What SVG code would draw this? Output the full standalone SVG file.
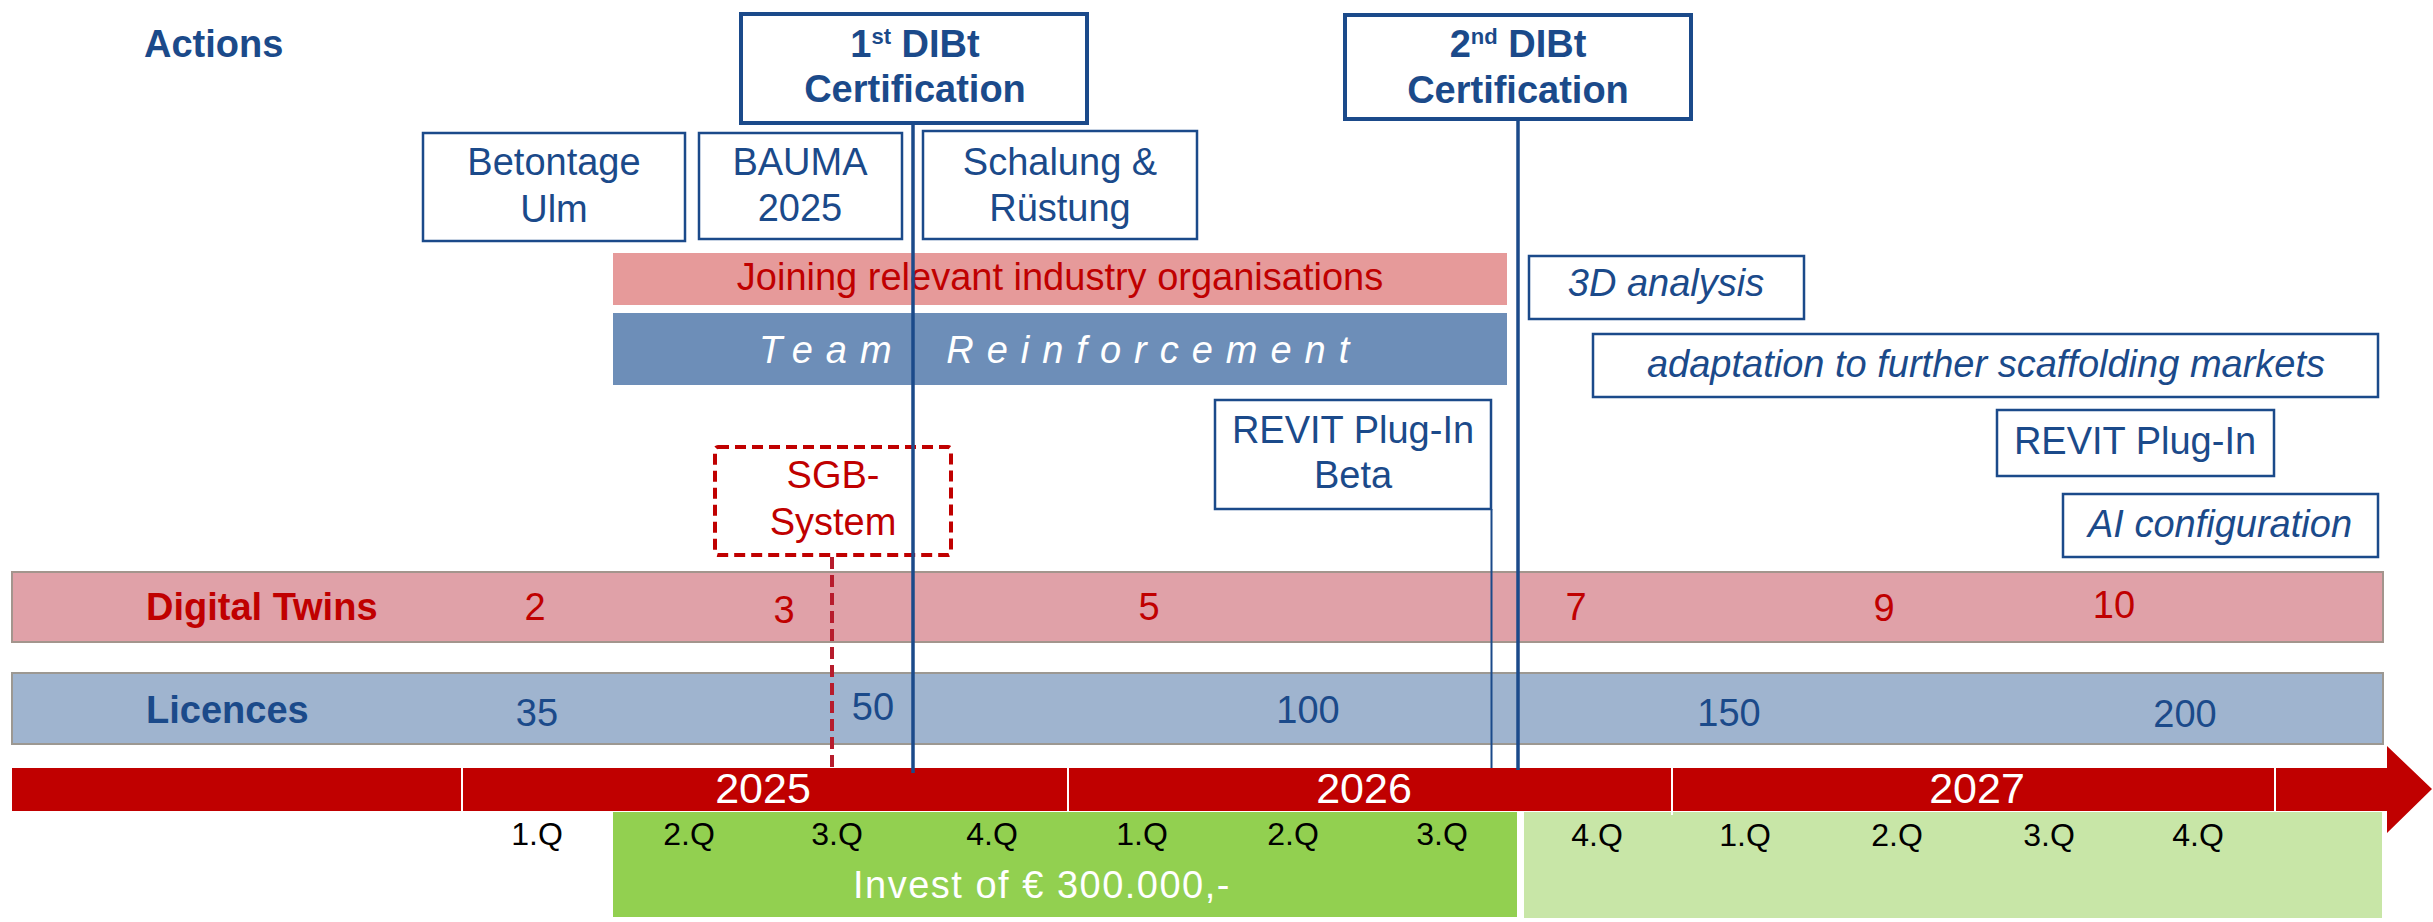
<svg xmlns="http://www.w3.org/2000/svg" width="2433" height="922" viewBox="0 0 2433 922">
<style>
text{font-family:"Liberation Sans",Arial,sans-serif;font-size:38px}
.blue{fill:#1B4A8A}
.red{fill:#C00000}
.white{fill:#FFFFFF}
.black{fill:#000000}
.b{font-weight:bold}
.i{font-style:italic}
.m{text-anchor:middle}
.box{fill:#FFFFFF;stroke:#1B4A8A;stroke-width:2.5}
.cert{fill:#FFFFFF;stroke:#1B4A8A;stroke-width:4}
.q{font-size:32px;text-anchor:middle;fill:#000}
.yr{font-size:43px;text-anchor:middle;fill:#FFF}
.div{stroke:#FFFFFF;stroke-width:2}
</style>
<rect x="0" y="0" width="2433" height="922" fill="#FFFFFF"/>

<g id="actions-title"><text x="144" y="57" class="blue b">Actions</text></g>

<g id="cert1">
<rect class="cert" x="741" y="14" width="346" height="109"/>
<text x="915" y="57" class="blue b m" font-size="36">1<tspan font-size="22" dy="-13">st</tspan><tspan dy="13"> DIBt</tspan></text>
<text x="915" y="102" class="blue b m" font-size="36">Certification</text>
</g>

<g id="cert2">
<rect class="cert" x="1345" y="15" width="346" height="104"/>
<text x="1518" y="57" class="blue b m" font-size="36">2<tspan font-size="22" dy="-13">nd</tspan><tspan dy="13"> DIBt</tspan></text>
<text x="1518" y="103" class="blue b m" font-size="36">Certification</text>
</g>

<g id="betontage">
<rect class="box" x="423" y="133" width="262" height="108"/>
<text x="554" y="175" class="blue m">Betontage</text>
<text x="554" y="222" class="blue m">Ulm</text>
</g>

<g id="bauma">
<rect class="box" x="699" y="133" width="203" height="106"/>
<text x="800" y="175" class="blue m">BAUMA</text>
<text x="800" y="221" class="blue m">2025</text>
</g>

<g id="schalung">
<rect class="box" x="923" y="131" width="274" height="108"/>
<text x="1060" y="175" class="blue m">Schalung &amp;</text>
<text x="1060" y="221" class="blue m">Rüstung</text>
</g>

<g id="joining">
<rect x="613" y="253" width="894" height="52" fill="#E69A9A"/>
<text x="1060" y="290" class="red m">Joining relevant industry organisations</text>
</g>

<g id="team">
<rect x="613" y="313" width="894" height="72" fill="#6D8EB8"/>
<text x="759" y="363" class="white i" letter-spacing="13" word-spacing="18">Team Reinforcement</text>
</g>

<g id="analysis3d">
<rect class="box" x="1529" y="256" width="275" height="63"/>
<text x="1666" y="296" class="blue i m" font-size="37">3D analysis</text>
</g>

<g id="adaptation">
<rect class="box" x="1593" y="334" width="785" height="63"/>
<text x="1986" y="377" class="blue i m" font-size="39">adaptation to further scaffolding markets</text>
</g>

<g id="revit-beta">
<rect class="box" x="1215" y="400" width="276" height="109"/>
<text x="1353" y="443" class="blue m" font-size="36">REVIT Plug-In</text>
<text x="1353" y="488" class="blue m" font-size="36">Beta</text>
</g>

<g id="revit">
<rect class="box" x="1997" y="410" width="277" height="66"/>
<text x="2135" y="454" class="blue m" font-size="36">REVIT Plug-In</text>
</g>

<g id="ai-config">
<rect class="box" x="2063" y="494" width="315" height="63"/>
<text x="2220" y="537" class="blue i m" font-size="39">AI configuration</text>
</g>

<g id="sgb">
<rect x="715" y="447" width="236" height="108" rx="3" fill="#FFFFFF" stroke="#C00000" stroke-width="4" stroke-dasharray="11 6"/>
<text x="833" y="488" class="red m">SGB-</text>
<text x="833" y="535" class="red m">System</text>
</g>

<g id="digital-twins">
<rect x="12" y="572" width="2371" height="70" fill="#E0A1A8" stroke="#A3958D" stroke-width="2"/>
<text x="146" y="620" class="red b">Digital Twins</text>
<text x="535" y="620" class="red m">2</text>
<text x="784" y="623" class="red m">3</text>
<text x="1149" y="620" class="red m">5</text>
<text x="1576" y="620" class="red m">7</text>
<text x="1884" y="621" class="red m">9</text>
<text x="2114" y="618" class="red m">10</text>
</g>

<g id="licences">
<rect x="12" y="673" width="2371" height="71" fill="#9FB4CF" stroke="#9C9892" stroke-width="2"/>
<text x="146" y="723" class="blue b">Licences</text>
<text x="537" y="726" class="blue m">35</text>
<text x="873" y="720" class="blue m">50</text>
<text x="1308" y="723" class="blue m">100</text>
<text x="1729" y="726" class="blue m">150</text>
<text x="2185" y="727" class="blue m">200</text>
</g>

<g id="invest">
<rect x="613" y="812" width="904" height="105" fill="#92D050"/>
<rect x="1524" y="812" width="858" height="106" fill="#C8E6A7"/>
<text x="853" y="898" class="white" font-size="47" letter-spacing="1.5">Invest of € 300.000,-</text>
</g>

<g id="timeline">
<polygon points="12,768 2387,768 2387,746 2432,789 2387,833 2387,811 12,811" fill="#C00000"/>
<line class="div" x1="462" y1="768" x2="462" y2="811"/>
<line class="div" x1="1068" y1="768" x2="1068" y2="811"/>
<line class="div" x1="1672" y1="768" x2="1672" y2="815"/>
<line class="div" x1="2275" y1="768" x2="2275" y2="811"/>
<text x="763" y="803" class="yr">2025</text>
<text x="1364" y="803" class="yr">2026</text>
<text x="1977" y="803" class="yr">2027</text>
</g>

<g id="quarters">
<text x="537" y="845" class="q">1.Q</text>
<text x="689" y="845" class="q">2.Q</text>
<text x="837" y="845" class="q">3.Q</text>
<text x="992" y="845" class="q">4.Q</text>
<text x="1142" y="845" class="q">1.Q</text>
<text x="1293" y="845" class="q">2.Q</text>
<text x="1442" y="845" class="q">3.Q</text>
<text x="1597" y="846" class="q">4.Q</text>
<text x="1745" y="846" class="q">1.Q</text>
<text x="1897" y="846" class="q">2.Q</text>
<text x="2049" y="846" class="q">3.Q</text>
<text x="2198" y="846" class="q">4.Q</text>
</g>

<g id="connectors">
<line x1="832" y1="557" x2="832" y2="773" stroke="#B71C2C" stroke-width="4" stroke-dasharray="12 6"/>
<line x1="913" y1="125" x2="913" y2="773" stroke="#1B4A8A" stroke-width="3.5"/>
<line x1="1518" y1="121" x2="1518" y2="770" stroke="#1B4A8A" stroke-width="3.5"/>
<line x1="1491.5" y1="509" x2="1491.5" y2="768" stroke="#1B4A8A" stroke-width="2"/>
</g>
</svg>
